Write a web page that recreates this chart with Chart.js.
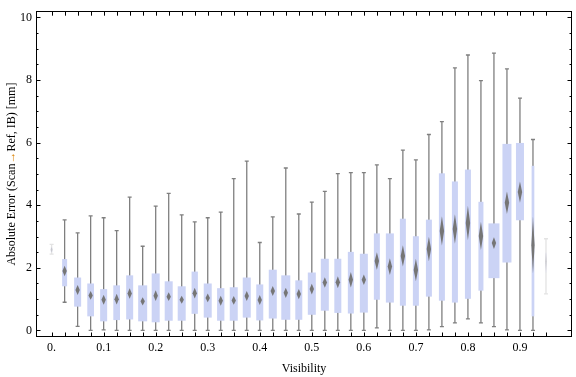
<!DOCTYPE html>
<html><head><meta charset="utf-8">
<script src="https://cdn.jsdelivr.net/npm/chart.js@4.4.1/dist/chart.umd.min.js"></script>
<style>html,body{margin:0;padding:0;background:#fff}canvas{display:block}</style>
</head><body>
<canvas id="c" width="576" height="377" style="width:576px;height:377px"></canvas>
<script>
// ---------- DATA ----------
const visibility = [0.000,0.025,0.050,0.075,0.100,0.125,0.150,0.175,0.200,0.225,0.250,0.275,0.300,0.325,0.350,0.375,0.400,0.425,0.450,0.475,0.500,0.525,0.550,0.575,0.600,0.625,0.650,0.675,0.700,0.725,0.750,0.775,0.800,0.825,0.850,0.875,0.900,0.925,0.950];
const whiskerLow  = [2.44,0.90,0.13,0.00,0.02,0.00,0.00,0.00,0.00,0.00,0.00,0.00,0.00,0.00,0.00,0.00,0.00,0.00,0.00,0.00,0.00,0.00,0.00,0.00,0.00,0.08,0.00,0.00,0.00,0.02,0.12,0.24,0.37,0.24,0.12,0.02,0.00,0.00,1.17];
const quartile1   = [2.50,1.41,0.76,0.45,0.29,0.33,0.35,0.29,0.26,0.31,0.31,0.53,0.41,0.31,0.31,0.41,0.32,0.38,0.34,0.34,0.50,0.63,0.56,0.54,0.57,0.98,0.89,0.79,0.79,1.08,0.95,0.89,1.01,1.27,1.67,2.17,3.52,0.45,1.85];
const medians     = [2.58,1.90,1.29,1.12,0.98,1.00,1.18,0.93,1.11,1.08,0.98,1.19,1.04,0.95,0.96,1.10,0.97,1.26,1.20,1.16,1.32,1.53,1.54,1.62,1.62,2.22,2.04,2.38,1.93,2.60,3.18,3.24,3.43,3.02,2.79,4.08,4.42,2.72,2.20];
const quartile3   = [2.65,2.28,1.69,1.50,1.32,1.44,1.76,1.44,1.82,1.57,1.41,1.88,1.50,1.35,1.38,1.69,1.47,1.94,1.76,1.60,1.85,2.29,2.29,2.51,2.45,3.10,3.10,3.57,3.01,3.54,5.02,4.76,5.14,4.11,3.42,5.96,5.99,5.26,2.49];
const whiskerHigh = [2.75,3.53,3.12,3.66,3.60,3.19,4.26,2.69,3.97,4.38,3.69,3.47,3.60,3.78,4.85,5.41,2.81,3.63,5.19,3.72,4.10,4.44,5.01,5.04,5.04,5.29,4.85,5.76,5.45,6.26,6.67,8.39,8.80,7.98,8.86,8.36,7.42,6.10,2.93];
const medianCIHalf = [0.08,0.17,0.16,0.14,0.16,0.17,0.17,0.13,0.17,0.14,0.13,0.17,0.14,0.16,0.14,0.16,0.16,0.16,0.16,0.16,0.17,0.17,0.19,0.25,0.17,0.28,0.27,0.34,0.36,0.39,0.47,0.47,0.55,0.45,0.19,0.36,0.34,0.91,0.30];
const xTickValues = [0,0.1,0.2,0.3,0.4,0.5,0.6,0.7,0.8,0.9];
const xTickLabels = ['0.','0.1','0.2','0.3','0.4','0.5','0.6','0.7','0.8','0.9'];
const yTickValues = [0,2,4,6,8,10];
const yTickLabels = ['0','2','4','6','8','10'];
const yMinorTickValues = [0,0.5,1,1.5,2,2.5,3,3.5,4,4.5,5,5.5,6,6.5,7,7.5,8,8.5,9,9.5,10];

// ---------- STYLE ----------
const boxWidthPx = [2,5,7,6.7,7,6.7,7,9,8,8,8,6.3,8,7.3,8,8,7,8,9,7,8,8,7,6,8,6,8,6,6,6,6,6,6,5,11,9,8,2.7,1.2];
const binAlpha = visibility.map((v,i)=> (i===0||i===visibility.length-1)?0.22:1);
const SERIF = '"Liberation Serif","Times New Roman",serif';
const boxColor = '#cbd3f5', whiskerColor = '#7f7f7f', diamondColor = '#767676';

const boxPlugin = {
  id:'boxes',
  afterDatasetsDraw(chart){
    const {ctx, scales:{x:xs, y:ys}} = chart;
    ctx.save();
    ctx.beginPath(); const a=chart.chartArea; ctx.rect(a.left,a.top,a.right-a.left,a.bottom-a.top); ctx.clip();
    visibility.forEach((v,i)=>{
      const x = xs.getPixelForValue(v);
      const yl = ys.getPixelForValue(whiskerLow[i]), yh = ys.getPixelForValue(whiskerHigh[i]);
      const y1 = ys.getPixelForValue(quartile1[i]), y3 = ys.getPixelForValue(quartile3[i]);
      const ym = ys.getPixelForValue(medians[i]);
      const dh = Math.abs(ys.getPixelForValue(medians[i]+medianCIHalf[i]) - ym);
      ctx.globalAlpha = binAlpha[i];
      // whisker
      ctx.strokeStyle = whiskerColor; ctx.lineWidth = 1.3;
      ctx.beginPath(); ctx.moveTo(x, yl); ctx.lineTo(x, yh);
      ctx.moveTo(x-2, yl); ctx.lineTo(x+2, yl);
      ctx.moveTo(x-2, yh); ctx.lineTo(x+2, yh);
      ctx.stroke();
      // box
      const w = boxWidthPx[i];
      ctx.fillStyle = boxColor;
      ctx.fillRect(x-w/2, y3, w, y1-y3);
      // median diamond
      const dw = Math.min(2.2, w/2+0.3);
      ctx.fillStyle = diamondColor;
      ctx.beginPath(); ctx.moveTo(x, ym-dh); ctx.lineTo(x+dw, ym); ctx.lineTo(x, ym+dh); ctx.lineTo(x-dw, ym); ctx.closePath(); ctx.fill();
    });
    ctx.restore();
  },
  afterDraw(chart){
    const {ctx, chartArea:a, scales:{x:xs, y:ys}} = chart;
    ctx.save();
    ctx.strokeStyle = '#000'; ctx.lineWidth = 1;
    ctx.strokeRect(Math.round(a.left)+0.5, Math.round(a.top)+0.5, Math.round(a.right-a.left)-1, Math.round(a.bottom-a.top)-1);
    ctx.beginPath();
    visibility.forEach(v=>{
      const x = Math.round(xs.getPixelForValue(v))+0.5;
      ctx.moveTo(x, a.bottom); ctx.lineTo(x, a.bottom-4.5);
      ctx.moveTo(x, a.top); ctx.lineTo(x, a.top+4.5);
    });
    yMinorTickValues.forEach(v=>{
      const y = Math.round(ys.getPixelForValue(v))+0.5;
      const len = (v%2===0)?4.5:2.5;
      ctx.moveTo(a.left, y); ctx.lineTo(a.left+len, y);
      ctx.moveTo(a.right, y); ctx.lineTo(a.right-len, y);
    });
    ctx.stroke();
    // axis titles
    ctx.fillStyle = '#000';
    ctx.font = '12px ' + SERIF;
    ctx.textAlign = 'center'; ctx.textBaseline = 'middle';
    ctx.fillText('Visibility', (a.left+a.right)/2, 369);
    const parts = [['Absolute Error (Scan','#000'],['\u2192','#d98000'],['Ref, IB) [mm]','#000']];
    const widths = parts.map(p=>ctx.measureText(p[0]).width);
    const total = widths.reduce((s,w)=>s+w,0);
    ctx.translate(12, (a.top+a.bottom)/2);
    ctx.rotate(-Math.PI/2);
    ctx.textAlign = 'left';
    let pos = -total/2;
    parts.forEach((p,i)=>{ ctx.fillStyle=p[1]; ctx.fillText(p[0], pos, 0); pos += widths[i]; });
    ctx.restore();
  }
};

new Chart(document.getElementById('c'), {
  type:'scatter',
  data:{ datasets:[{ data: visibility.map((v,i)=>({x:v, y:medians[i]})), pointRadius:0, showLine:false }] },
  options:{
    responsive:false, animation:false, devicePixelRatio:1,
    layout:{padding:{left:0, top:4, right:4, bottom:0}},
    plugins:{legend:{display:false}, tooltip:{enabled:false}},
    scales:{
      x:{ type:'linear', min:-0.03, max:1.0,
        grid:{display:false, drawTicks:false}, border:{display:false},
        afterBuildTicks: s=>{ s.ticks = xTickValues.map(v=>({value:v})); },
        afterFit: s=>{ s.height = 40; },
        ticks:{ autoSkip:false, maxRotation:0, padding:4, color:'#000', font:{family:SERIF, size:12},
          callback:(v)=>{ const i = xTickValues.findIndex(t=>Math.abs(t-v)<1e-9); return i>=0?xTickLabels[i]:''; } } },
      y:{ type:'linear', min:-0.21, max:10.2,
        grid:{display:false, drawTicks:false}, border:{display:false},
        afterBuildTicks: s=>{ s.ticks = yTickValues.map(v=>({value:v})); },
        afterFit: s=>{ s.width = 36; },
        ticks:{ padding:4, color:'#000', font:{family:SERIF, size:12},
          callback:(v)=>{ const i = yTickValues.findIndex(t=>Math.abs(t-v)<1e-9); return i>=0?yTickLabels[i]:''; } } }
    }
  },
  plugins:[boxPlugin]
});
</script>
</body></html>
